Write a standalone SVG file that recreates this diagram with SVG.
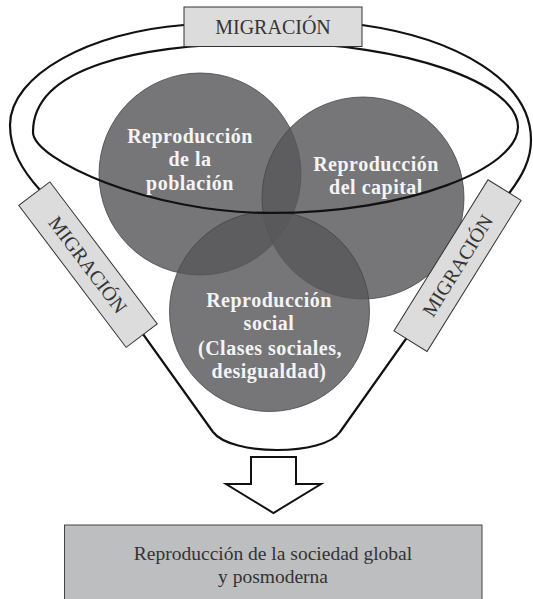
<svg xmlns="http://www.w3.org/2000/svg" width="533" height="599" viewBox="0 0 533 599">
  <style>
    .circ { fill: #58585a; fill-opacity: 0.82; stroke: #454547; stroke-width: 0.8; }
    .ctext { font-family: "Liberation Serif", "Times New Roman", serif; font-weight: bold; font-size: 20px; fill: #f4f4f4; text-anchor: middle; letter-spacing: 0.5px; }
    .line { fill: none; stroke: #111; stroke-width: 2.2; stroke-linejoin: round; }
    .mbox { fill: #dcdcdd; stroke: #333; stroke-width: 1; }
    .mtext { font-family: "Liberation Serif", "Times New Roman", serif; font-size: 20px; fill: #353535; text-anchor: middle; }
    .btext { font-family: "Liberation Serif", "Times New Roman", serif; font-size: 19.5px; fill: #333; text-anchor: middle; }
  </style>
  <rect width="533" height="599" fill="#fff"/>

  <g id="circle-poblacion">
    <circle class="circ" cx="200" cy="174" r="101"/>
    <text class="ctext" x="190" y="143">Reproducción</text>
    <text class="ctext" x="190" y="166">de la</text>
    <text class="ctext" x="190" y="190">población</text>
  </g>
  <g id="circle-capital">
    <circle class="circ" cx="363" cy="198" r="101"/>
    <text class="ctext" x="376" y="171">Reproducción</text>
    <text class="ctext" x="376" y="194">del capital</text>
  </g>
  <g id="circle-social">
    <circle class="circ" cx="269.5" cy="311.5" r="100"/>
    <text class="ctext" x="269" y="307">Reproducción</text>
    <text class="ctext" x="269" y="330">social</text>
    <text class="ctext" x="270" y="355">(Clases sociales,</text>
    <text class="ctext" x="269" y="378">desigualdad)</text>
  </g>

  <g id="connectors">
    <path class="line" d="M 275,43 C 400,43 518,82 518,127 C 518,168 410,213 270,213 C 150,213 33,160 33,132 C 33,68 135,43 275,43 Z"/>
    <path class="line" d="M 184,25 C 90,32 10,75 10,125 C 10,150 22,170 40,190 Q 118,300 213,432 C 222,444 250,450 277,450 C 305,450 332,444 340,432 L 510,192 C 522,176 531,160 531,140 C 531,80 455,38 362,25"/>
    <polygon points="251,457 296,457 296,484 321,484 273.5,513 226,484 251,484" fill="#fff" stroke="#111" stroke-width="2" stroke-linejoin="miter"/>
  </g>

  <g id="migracion-top">
    <rect class="mbox" x="184" y="7" width="178" height="39.5"/>
    <text class="mtext" x="273" y="33.5">MIGRACIÓN</text>
  </g>
  <g id="migracion-left" transform="translate(88,264.6) rotate(52.9)">
    <rect class="mbox" x="-89" y="-19.5" width="178" height="39"/>
    <text class="mtext" x="0" y="7">MIGRACIÓN</text>
  </g>
  <g id="migracion-right" transform="translate(457.5,265.6) rotate(-58.1)">
    <rect class="mbox" x="-89" y="-19.5" width="178" height="39"/>
    <text class="mtext" x="0" y="7">MIGRACIÓN</text>
  </g>

  <g id="sociedad-global">
    <rect x="64.5" y="525" width="417.5" height="80" fill="#bdbec0" stroke="#444" stroke-width="1"/>
    <text class="btext" x="273" y="560">Reproducción de la sociedad global</text>
    <text class="btext" x="273" y="583">y posmoderna</text>
  </g>
</svg>
